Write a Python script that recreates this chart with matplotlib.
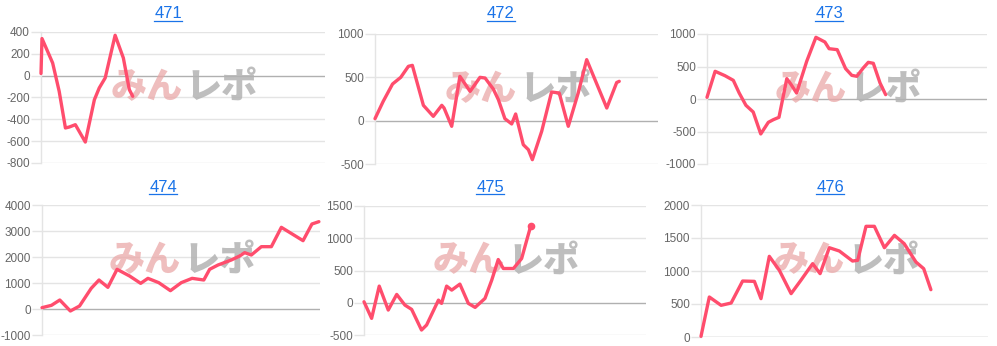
import matplotlib
matplotlib.use("Agg")
import matplotlib.pyplot as plt
from matplotlib.lines import Line2D

plt.rcParams['font.family'] = ['Liberation Sans', 'Noto Sans CJK JP', 'DejaVu Sans']

# ---- data (x = position along the day, 0-100 scale of the axis width) ----
titles = ["471", "472", "473", "474", "475", "476"]

x471 = [0, 0.35, 1.8, 4.1, 6.4, 8.6, 10, 12.1, 15.6, 18.8, 20.5, 22.6, 26.1, 29, 31.1, 32.3]
y471 = [20, 340, 254, 116, -143, -479, -470, -449, -608, -220, -113, -21, 370, 162, -128, -189]

x472 = [0, 2.9, 6.2, 9.1, 11.8, 13.2, 17.1, 20.6, 23.6, 24.4, 27.1, 30.0, 33.6, 37.1, 38.9,
        41.8, 43.6, 45.9, 48.3, 49.7, 52.4, 54.2, 55.6, 58.9, 62.4, 65.1, 68.3, 71.8, 74.8,
        81.9, 85.4, 86.3]
y472 = [23, 223, 423, 500, 627, 638, 177, 50, 177, 146, -65, 511, 338, 500, 492,
        365, 242, 23, -38, 77, -277, -335, -450, -123, 331, 319, -65, 319, 704,
        146, 440, 454]

x473 = [0, 2.9, 6.4, 9.4, 11.5, 13.9, 16.5, 19.2, 21.9, 23.7, 25.7, 28.5, 29.9, 32.0, 35.6,
        38.9, 42.1, 43.6, 46.5, 49.5, 51.7, 53.5, 55.8, 57.6, 59.4, 61.8, 63.8]
y473 = [26, 426, 359, 287, 92, -97, -200, -538, -359, -318, -282, 313, 231, 92, 579,
        949, 877, 774, 759, 467, 364, 349, 477, 564, 549, 246, 67]

x474 = [0, 3.4, 6.4, 10.2, 13.5, 17.7, 20.5, 23.7, 27.0, 31.5, 35.5, 38.1, 42.0, 46.2, 50.1,
        54.0, 58.2, 60.3, 63.3, 68.1, 71.1, 72.9, 75.3, 78.9, 82.5, 86.1, 93.9, 97.1, 99.6]
y474 = [51, 141, 346, -77, 115, 795, 1115, 833, 1526, 1269, 987, 1179, 1013, 705, 1013,
        1179, 1115, 1526, 1692, 1885, 2038, 2167, 2077, 2397, 2397, 3141, 2628, 3269, 3359]

x475 = [0, 2.7, 5.4, 8.6, 11.6, 14.5, 16.9, 20.4, 22.2, 26.4, 27.5, 29.3, 31.1, 34.0, 37.0,
        39.4, 42.9, 45.3, 47.6, 49.4, 53.0, 55.9, 57.7, 59.1]
y475 = [15, -242, 258, -113, 129, -36, -103, -423, -345, 41, -10, 258, 196, 289, -10,
        -72, 67, 351, 670, 531, 531, 686, 969, 1186]

x476 = [0, 2.9, 7.0, 10.5, 14.5, 18.6, 20.9, 23.8, 27.3, 31.4, 34.8, 38.9, 41.5, 44.7, 48.2,
        52.8, 54.6, 57.5, 60.4, 63.9, 67.4, 70.8, 74.9, 77.6, 80.1]
y476 = [10, 606, 480, 515, 848, 843, 581, 1222, 1010, 657, 859, 1111, 960, 1353, 1303,
        1151, 1162, 1677, 1677, 1353, 1540, 1414, 1136, 1035, 717]

ticks471 = [-800, -600, -400, -200, 0, 200, 400]
ticks472 = [-500, 0, 500, 1000]
ticks473 = [-1000, -500, 0, 500, 1000]
ticks474 = [-1000, 0, 1000, 2000, 3000, 4000]
ticks475 = [-500, 0, 500, 1000, 1500]
ticks476 = [0, 500, 1000, 1500, 2000]

series = [(x471, y471, ticks471), (x472, y472, ticks472), (x473, y473, ticks473),
          (x474, y474, ticks474), (x475, y475, ticks475), (x476, y476, ticks476)]

W, H = 997, 346
fig = plt.figure(figsize=(W / 100, H / 100), dpi=100)

# axes rectangles in pixels: left, right, top, bottom
boxes = [(41, 325, 32, 163), (375, 658, 34, 164), (707, 987, 34, 164),
         (42, 320, 205, 335), (364, 646, 206, 335), (701, 988, 205, 337)]
title_pos = [(168, 14), (501, 14), (829, 14), (163, 187), (490, 187), (830, 187)]

LINE = "#ff4d6d"
GRID = "#e4e4e4"
ZERO = "#b0b0b0"
BLUE = "#1a73e8"

renderer = fig.canvas.get_renderer()

for i, ((xs, ys, ticks), (l, r, t, b)) in enumerate(zip(series, boxes)):
    ax = fig.add_axes([l / W, 1 - b / H, (r - l) / W, (b - t) / H])
    ax.set_xlim(0, 100)
    ax.set_ylim(ticks[0], ticks[-1])
    ax.set_yticks(ticks)
    ax.set_yticklabels([str(v) for v in ticks])
    ax.set_xticks([])
    for s in ["top", "right", "bottom"]:
        ax.spines[s].set_visible(False)
    ax.spines["left"].set_color(GRID)
    ax.spines["left"].set_linewidth(1)
    ax.tick_params(axis="y", length=7, width=1, color=GRID, labelsize=8.5,
                   labelcolor="#666666", pad=1)
    for v in ticks:
        ax.axhline(v, color=ZERO if v == 0 else GRID, lw=1, zorder=0)
    # watermark
    ax.text(0.5, 0.58, "みん", transform=ax.transAxes, ha="right", va="center",
            fontsize=26, fontweight="heavy", color="#eaa8a8", alpha=0.75,
            family=["Noto Sans CJK JP"], zorder=1)
    ax.text(0.51, 0.58, "レポ", transform=ax.transAxes, ha="left", va="center",
            fontsize=26, fontweight="heavy", color="#b3b3b3", alpha=0.85,
            family=["Noto Sans CJK JP"], zorder=1)
    ax.plot(xs, ys, color=LINE, lw=2.4, solid_joinstyle="round",
            solid_capstyle="round", zorder=3, clip_on=False)
    if i == 4:
        ax.plot(xs[-1:], ys[-1:], "o", color=LINE, ms=4.5, zorder=4, clip_on=False)

    # title with underline
    tx, ty = title_pos[i]
    txt = fig.text(tx / W, 1 - ty / H, titles[i], ha="center", va="center",
                   fontsize=12, color=BLUE)
    bb = txt.get_window_extent(renderer=renderer)
    uy = (bb.y0 + 1) / H
    fig.add_artist(Line2D([bb.x0 / W, bb.x1 / W], [uy, uy], color=BLUE, lw=0.9,
                          transform=fig.transFigure))

fig.savefig("out.png", dpi=100)
